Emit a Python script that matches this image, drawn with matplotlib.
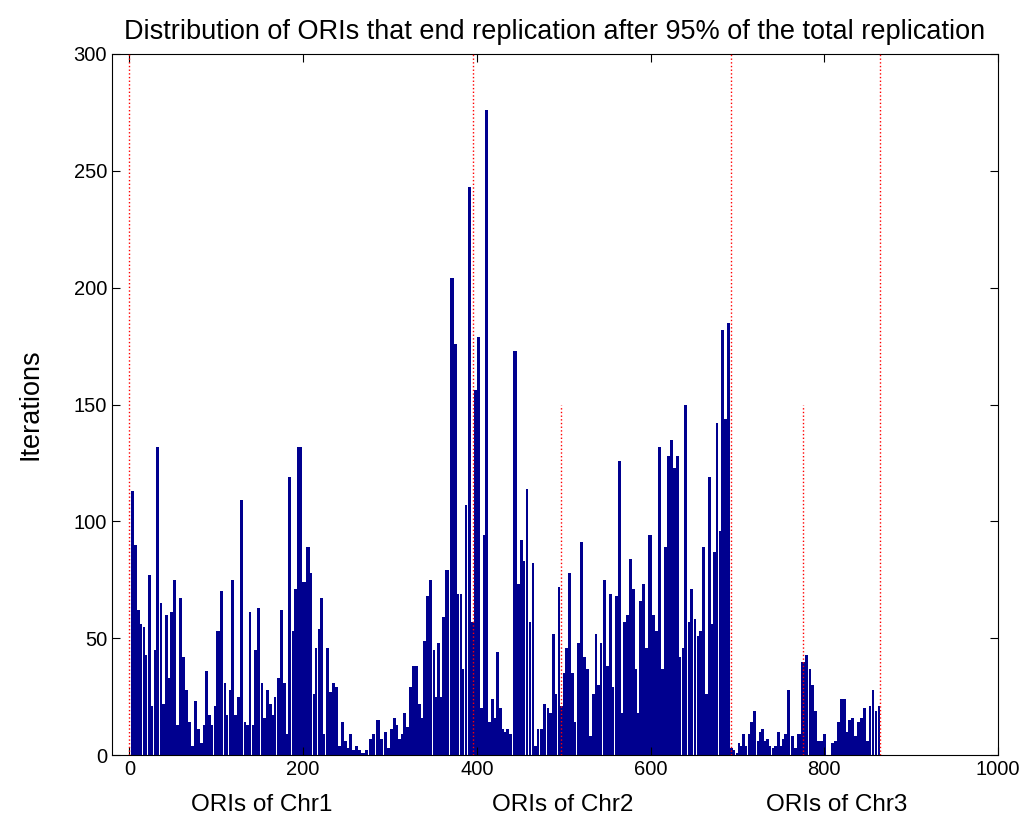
import numpy as np
import matplotlib
matplotlib.use("Agg")
import matplotlib.pyplot as plt

# ORI index (bar centre) and number of iterations
ori_pos = [
    3.8, 6.9, 10.4, 13.8, 16.5, 19.2, 23.0, 26.5, 29.2, 33.0, 36.9, 39.2, 42.6, 46.1, 48.4,
    52.2, 55.7, 59.1, 62.6, 66.1, 69.9, 72.6, 76.0, 80.3, 83.3, 85.6, 89.5, 92.7, 95.2, 98.7,
    101.8, 106.4, 110.4, 112.9, 115.6, 119.4, 122.1, 125.2, 129.6, 133.6, 135.8, 139.5, 142.1,
    145.1, 148.9, 153.2, 155.3, 159.0, 163.0, 165.2, 167.6, 171.3, 175.5, 178.9, 181.1, 185.2,
    188.2, 191.4, 195.6, 201.6, 206.2, 209.6, 212.2, 215.1, 218.1, 221.6, 224.4, 227.3, 232.1,
    235.1, 239.0, 241.1, 245.8, 249.3, 251.6, 255.0, 258.3, 262.1, 265.2, 269.0, 273.6, 277.5,
    281.6, 285.6, 291.1, 294.5, 298.6, 301.5, 305.3, 308.4, 311.0, 313.7, 317.4, 320.3, 323.2,
    327.0, 331.0, 334.6, 337.2, 339.9, 343.5, 347.2, 351.2, 353.3, 355.9, 358.9, 361.4, 365.3,
    371.8, 375.4, 378.6, 381.8, 384.5, 387.3, 391.4, 395.2, 398.3, 402.3, 405.9, 408.2, 411.6,
    414.9, 418.2, 421.0, 424.3, 427.7, 430.0, 432.3, 435.6, 438.6, 444.0, 448.5, 451.4, 454.5,
    458.0, 461.4, 464.7, 468.0, 470.5, 474.0, 478.9, 481.6, 484.3, 488.5, 491.6, 494.5, 497.3,
    500.5, 503.4, 507.3, 510.5, 512.8, 517.1, 520.3, 524.1, 527.1, 530.9, 534.2, 537.2, 540.2,
    543.3, 546.2, 550.7, 553.6, 557.1, 560.2, 564.6, 567.4, 570.3, 573.4, 576.9, 580.3, 583.5,
    586.0, 588.3, 592.1, 595.4, 599.4, 603.8, 606.3, 610.9, 614.2, 616.9, 620.4, 624.2, 627.2,
    630.9, 634.4, 637.0, 641.1, 644.2, 647.6, 651.4, 654.6, 657.5, 661.0, 664.2, 667.7, 670.8,
    673.6, 676.7, 679.9, 683.4, 686.7, 689.8, 693.5, 696.6, 699.0, 701.8, 704.2, 707.4, 710.1,
    713.4, 716.4, 720.4, 723.6, 725.7, 729.2, 731.8, 735.1, 738.1, 740.7, 743.5, 747.4, 750.4,
    752.5, 755.8, 759.3, 763.2, 766.8, 770.6, 776.1, 780.0, 783.8, 786.7, 790.0, 793.4, 796.5,
    800.3, 805.0, 809.4, 812.6, 816.1, 819.9, 823.8, 826.6, 829.1, 833.0, 836.2, 839.1, 843.0,
    846.8, 849.7, 852.6, 856.4, 859.7, 863.0,
]
iterations = [
    113, 90, 62, 56, 55, 43, 77, 21, 45, 132, 65, 22, 60, 33, 61,
    75, 13, 67, 42, 28, 14, 4, 23, 11, 5, 13, 36, 17, 13, 21,
    53, 70, 31, 17, 28, 75, 17, 25, 109, 14, 13, 61, 13,
    45, 63, 31, 16, 28, 22, 17, 25, 33, 62, 31, 9, 119,
    53, 71, 132, 74, 89, 78, 26, 46, 54, 67, 9, 46, 27,
    31, 29, 4, 14, 6, 3, 9, 2, 4, 2, 1, 2, 7,
    9, 15, 7, 10, 3, 11, 16, 13, 7, 9, 18, 12, 29,
    38, 38, 22, 16, 49, 68, 75, 45, 25, 48, 25, 59, 79,
    204, 176, 69, 69, 37, 107, 243, 57, 156, 179, 20, 94, 276,
    14, 24, 16, 44, 20, 11, 10, 11, 9, 173, 73, 92, 83,
    114, 57, 82, 4, 11, 11, 22, 20, 18, 52, 26, 72, 21,
    35, 46, 78, 35, 14, 48, 91, 42, 37, 8, 26, 52, 30,
    48, 75, 38, 69, 29, 68, 126, 18, 57, 60, 84, 71, 37,
    18, 66, 73, 46, 94, 60, 53, 132, 37, 89, 128, 135, 123,
    128, 42, 46, 150, 57, 71, 58, 51, 53, 89, 26, 119, 56,
    87, 142, 96, 182, 144, 185, 3, 2, 1, 5, 4, 9, 4,
    9, 14, 19, 6, 10, 11, 6, 7, 4, 3, 4, 10, 4,
    7, 9, 28, 8, 3, 9, 40, 43, 37, 30, 19, 6, 6,
    9, 0, 5, 6, 14, 24, 24, 10, 15, 16, 8, 14, 16,
    20, 6, 21, 28, 19, 21,
]

# chromosome boundaries (full height) and sub-boundaries (half height)
chr_bounds = [0, 395.5, 692.5, 864]
sub_bounds = [497, 775]
chr_labels = ["ORIs of Chr1", "ORIs of Chr2", "ORIs of Chr3"]
chr_label_x = [152, 499, 814]

plt.rcParams['font.family'] = ['Liberation Sans', 'DejaVu Sans']

fig = plt.figure(figsize=(10.34, 8.24), dpi=100)
ax = fig.add_axes([0.1083, 0.0837, 0.8569, 0.8508])

pos = np.array(ori_pos)
mid = (pos[1:] + pos[:-1]) / 2
edges = np.concatenate([[pos[0] - (mid[0] - pos[0])], mid, [pos[-1] + (pos[-1] - mid[-1])]])
ax.bar(edges[:-1], iterations, width=np.diff(edges) * 0.93, align='edge',
       color='#00008f', linewidth=0)

for x in chr_bounds:
    ax.plot([x, x], [0, 300], color='red', linestyle=':', linewidth=1.0, zorder=3)
for x in sub_bounds:
    ax.plot([x, x], [0, 150], color='red', linestyle=':', linewidth=1.0, zorder=3)

ax.set_xlim(-20, 1000)
ax.set_ylim(0, 300)
ax.set_xticks(range(0, 1001, 200))
ax.set_yticks(range(0, 301, 50))
ax.tick_params(direction='in', top=True, right=True, labelsize=14.5, length=6)
ax.set_title("Distribution of ORIs that end replication after 95% of the total replication",
             fontsize=19.5, pad=11)
ax.set_ylabel("Iterations", fontsize=19.5, va='center')
ax.yaxis.set_label_coords(-0.092, 0.5)
for lab, x in zip(chr_labels, chr_label_x):
    ax.text(x, -21.5, lab, ha='center', va='center', fontsize=17.5)

fig.savefig("out.png")
